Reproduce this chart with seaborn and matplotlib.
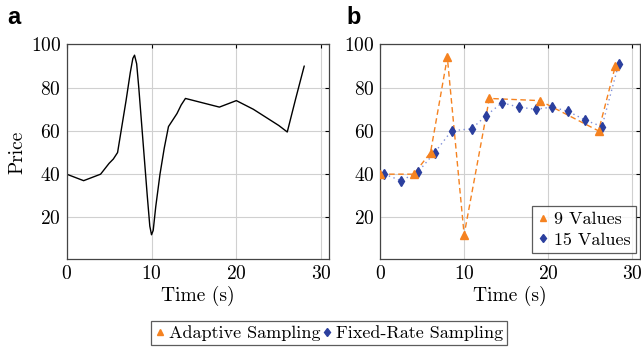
import matplotlib
matplotlib.use('Agg')
import matplotlib.pyplot as plt
import seaborn as sns
from matplotlib.lines import Line2D

# panel a: continuous price curve
time_full = [0, 1, 2, 3, 4, 5, 5.5, 6, 6.5, 7, 7.5, 7.8, 8, 8.25, 8.5, 9, 9.5, 9.8, 10, 10.2,
             10.5, 11, 11.5, 12, 12.5, 13, 13.5, 14, 15, 16, 17, 18, 19, 20, 21, 22, 23, 24,
             25, 25.5, 26, 27, 28]
price_full = [40, 38.5, 37, 38.5, 40, 45, 47, 50, 62, 74, 87, 93.5, 95, 91, 80, 55, 30, 16, 12, 14,
              25, 40, 52, 62, 65, 68, 72, 75, 74, 73, 72, 71, 72.5, 74, 72, 70, 67.5, 65,
              62.5, 61, 59.5, 75, 90]

# panel b: adaptive (9 values) and fixed-rate (15 values)
time_adaptive = [0, 4, 6, 8, 10, 13, 19, 26, 28]
price_adaptive = [40, 40, 50, 94, 12, 75, 74, 60, 90]
time_fixed = [0.5, 2.5, 4.5, 6.5, 8.5, 10.9, 12.6, 14.5, 16.5, 18.5, 20.5, 22.4, 24.4, 26.4, 28.4]
price_fixed = [40, 37, 41, 50, 60, 61, 67, 73, 71, 70, 71, 69, 65, 62, 91]

orange = '#f58220'
blue = '#2b3f9e'
fs = 14
lfs = 13

sns.set_style('white')
plt.rcParams['font.family'] = ['cmr10', 'DejaVu Serif']
plt.rcParams['axes.formatter.use_mathtext'] = True
plt.rcParams['mathtext.fontset'] = 'cm'
plt.rcParams['text.color'] = 'black'
plt.rcParams['axes.labelcolor'] = 'black'

fig = plt.figure(figsize=(6.41, 3.52), dpi=100)
ax1 = fig.add_axes([0.104, 0.263, 0.409, 0.611])
ax2 = fig.add_axes([0.593, 0.263, 0.405, 0.611])

sns.lineplot(x=time_full, y=price_full, ax=ax1, color='black', lw=1.0)

sns.lineplot(x=time_fixed, y=price_fixed, ax=ax2, color='#8090d8', lw=1.0,
             linestyle=(0, (1, 2.5)), zorder=2)
sns.lineplot(x=time_adaptive, y=price_adaptive, ax=ax2, color=orange, lw=1.0,
             linestyle=(0, (4, 2.5)), zorder=3)
ax2.plot(time_fixed, price_fixed, linestyle='none', marker='d', ms=5,
         color=blue, zorder=4)
ax2.plot(time_adaptive, price_adaptive, linestyle='none', marker='^', ms=5.5,
         color=orange, zorder=5)

for ax in (ax1, ax2):
    ax.set_xlim(0, 30.9)
    ax.set_ylim(0.6, 100)
    ax.set_xticks([0, 10, 20, 30])
    ax.set_yticks([20, 40, 60, 80, 100])
    ax.grid(True, color='#d0d0d0', lw=0.8)
    ax.tick_params(direction='in', length=3, top=True, right=True,
                   labelsize=fs, colors='black', pad=4)
    for s in ax.spines.values():
        s.set_color('#444444')
        s.set_linewidth(0.9)
    ax.set_xlabel('Time (s)', fontsize=fs, labelpad=2)

ax1.set_ylabel('Price', fontsize=fs, labelpad=3)

h9 = Line2D([], [], linestyle='none', marker='^', ms=4.5, color=orange)
h15 = Line2D([], [], linestyle='none', marker='d', ms=4.5, color=blue)
leg = ax2.legend([h9, h15], ['9 Values', '15 Values'], loc='lower right',
                 bbox_to_anchor=(0.985, 0.03), bbox_transform=ax2.transAxes,
                 fontsize=lfs, frameon=True, fancybox=False, edgecolor='#333333',
                 handlelength=0.6, handletextpad=0.3, borderpad=0.3,
                 labelspacing=0.25, borderaxespad=0.0)
leg.get_frame().set_linewidth(0.9)

fleg = fig.legend([h9, h15], ['Adaptive Sampling', 'Fixed-Rate Sampling'],
                  loc='center', bbox_to_anchor=(0.513, 0.054), ncol=2,
                  fontsize=lfs, frameon=True, fancybox=False, edgecolor='#333333',
                  handlelength=0.6, handletextpad=0.2, columnspacing=0.1,
                  borderpad=0.2)
fleg.get_frame().set_linewidth(0.9)

fig.text(0.012, 0.95, 'a', fontsize=17, fontweight='bold', color='black',
         family='Liberation Sans', va='center')
fig.text(0.541, 0.95, 'b', fontsize=17, fontweight='bold', color='black',
         family='Liberation Sans', va='center')

fig.savefig('out.png', dpi=100)
